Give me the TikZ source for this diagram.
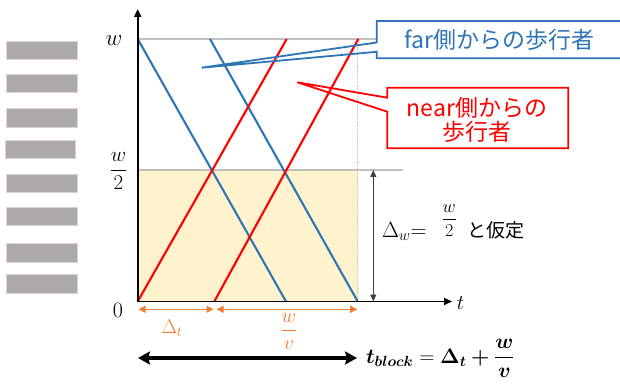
\documentclass[tikz,border=0pt]{standalone}
\usepackage{fix-cm}
\usepackage{amsmath}
\usepackage[no-math]{fontspec}
\newfontfamily\jp{Noto Sans CJK JP}
\DeclareMathAlphabet{\mathbit}{OML}{cmm}{b}{it}
\usetikzlibrary{arrows.meta}
\definecolor{lineblue}{RGB}{46,117,182}
\definecolor{linered}{RGB}{255,0,0}
\definecolor{dimorange}{RGB}{237,125,49}
\definecolor{fillyellow}{RGB}{255,242,204}
\definecolor{barfill}{RGB}{174,170,170}
\definecolor{barrim}{RGB}{215,213,213}
\definecolor{guide}{RGB}{191,191,191}
\definecolor{dimgray}{RGB}{64,64,64}
\tikzset{
  bar/.style={fill=barfill, draw=barrim, line width=0.8pt},
  guideline/.style={draw=guide, line width=1.2pt},
  axisline/.style={draw=black, line width=1.7pt, -{Triangle[length=8pt,width=7pt]}},
  farwalker/.style={draw=lineblue, line width=2.1pt},
  nearwalker/.style={draw=linered, line width=2.1pt},
  orangedim/.style={draw=dimorange, line width=1.2pt, {Triangle[length=7pt,width=7pt]}-{Triangle[length=7pt,width=7pt]}},
  graydim/.style={draw=dimgray, line width=0.9pt, {Triangle[length=7pt,width=6pt]}-{Triangle[length=7pt,width=6pt]}},
  bigarrow/.style={draw=black, line width=3.4pt, {Stealth[length=12pt,width=13pt,inset=2pt]}-{Stealth[length=12pt,width=13pt,inset=2pt]}},
  lbl/.style={inner sep=0pt, outer sep=0pt},
  calltext/.style={inner sep=0pt, outer sep=0pt, align=center, font=\jp\fontsize{23}{24}\selectfont},
  callblue/.style={draw=lineblue, line width=1.8pt, line join=miter},
  callred/.style={draw=linered, line width=1.8pt, line join=miter},
}
\begin{document}
\begin{tikzpicture}[x=1pt,y=-1pt]
\useasboundingbox (0,0) rectangle (620,387);

% crossing bars
\foreach \xa/\ya/\xb/\yb in {6.7/41/77.3/59.3, 6.7/74/77.3/92.3, 6.7/108.7/77.3/127, 5/140/75.7/158.3, 6.7/174/77.3/192.3, 6.7/207.3/77.3/225.7, 6.7/243.7/77.3/262, 6.7/274.7/77.3/293}
  \path[bar] (\xa,\ya) rectangle (\xb,\yb);

% key points
\coordinate (O) at (137.7,301.5);
\coordinate (Ytop) at (137.7,9);
\coordinate (Tend) at (452,301.5);
\coordinate (Wl) at (137.7,39);
\coordinate (Wr) at (376.7,39);
\coordinate (Hl) at (137.7,170);
\coordinate (Hr) at (402.5,170);
\coordinate (Rt) at (357.7,39);
\coordinate (Rb) at (357.7,301.5);

% shaded region
\fill[fillyellow] (Hl) rectangle (Rb);
\path[guideline] (Wl) -- (Wr);
\path[guideline] (Hl) -- (Hr);
\draw[guide, line width=0.9pt, densely dotted] (Rt) -- (Rb);

% walkers
\coordinate (b1s) at (137.7,39);  \coordinate (b1e) at (286,301.5);
\coordinate (b2s) at (210,39);    \coordinate (b2e) at (357.7,301.5);
\coordinate (r1s) at (137.7,301.5); \coordinate (r1e) at (286.7,39);
\coordinate (r2s) at (214.3,301.5); \coordinate (r2e) at (358.3,39);
\path[farwalker] (b1s) -- (b1e);
\path[farwalker] (b2s) -- (b2e);
\path[nearwalker] (r1s) -- (r1e);
\path[nearwalker] (r2s) -- (r2e);

% axes
\path[axisline] (O) -- (Ytop);
\path[axisline] (O) -- (Tend);

% axis labels
\node[lbl] (labw) at (114,41) {\fontsize{23}{26}\selectfont$w$};
\node[lbl] (labhalf) at (118.5,171) {\fontsize{21}{24}\selectfont$\dfrac{w}{2}$};
\node[lbl] (labzero) at (118,310) {\fontsize{22}{24}\selectfont$0$};
\node[lbl] (labt) at (460.5,303) {\fontsize{21}{24}\selectfont$t$};

% Delta_w dimension
\coordinate (dwTop) at (373.3,170);
\coordinate (dwBot) at (373.3,301.5);
\path[graydim] (dwTop) -- (dwBot);
\node[lbl, anchor=base west] (labdw) at (382,237.3) {\fontsize{22}{24}\selectfont$\Delta_{w}{=}$\hspace{15pt}\raisebox{13pt}{\fontsize{18}{20}\selectfont$\dfrac{w}{2}$}\hspace{10pt}{\jp\fontsize{19}{20}\selectfont と仮定}};

% orange dimensions
\coordinate (d1a) at (138.5,309.3); \coordinate (d1b) at (213.5,309.3);
\coordinate (d2a) at (216.5,309.3); \coordinate (d2b) at (357.2,309.3);
\path[orangedim] (d1a) -- (d1b);
\path[orangedim] (d2a) -- (d2b);
\node[lbl, anchor=base, text=dimorange] (labdt) at (172,333.3) {\fontsize{20}{22}\selectfont$\Delta_{t}$};
\node[lbl, text=dimorange] (labwv) at (289,331.7) {\fontsize{20}{22}\selectfont$\dfrac{w}{v}$};

% block time arrow
\coordinate (ba) at (138,358);
\coordinate (bb) at (357,358);
\path[bigarrow] (ba) -- (bb);
\node[lbl, anchor=base west] (labblock) at (366,363) {\fontsize{21}{24}\selectfont$\mathbit{t}_{\mathbit{block}} = \mathbf{\Delta}_{\mathbit{t}}\mathbin{\textbf{+}}\dfrac{\mathbit{w}}{\mathbit{v}}$};

% far callout
\node[calltext, text=lineblue] (farText) at (499.5,39.5) {far側からの歩行者};
\coordinate (farTip) at (201.7,67.7);
\path[callblue] (376.7,42.5) -- (376.7,21) -- (625,21) -- (625,58.3) -- (376.7,58.3) -- (376.7,51.8) -- (farTip) -- cycle;

% near callout
\node[calltext, text=linered] (nearText) at (477,120) {near側からの\\歩行者};
\coordinate (nearTip) at (297.3,82.3);
\path[callred] (387.3,97.7) -- (387.3,87.7) -- (568.3,87.7) -- (568.3,148.3) -- (387.3,148.3) -- (387.3,111.7) -- (nearTip) -- cycle;
\end{tikzpicture}
\end{document}
